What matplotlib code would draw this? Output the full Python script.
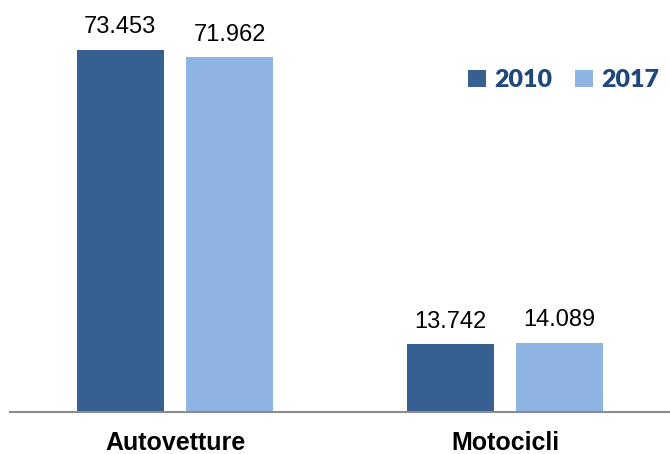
import matplotlib.pyplot as plt
import numpy as np

categories = ['Autovetture', 'Motocicli']
years = ['2010', '2017']
values_2010 = [73.453, 13.742]
values_2017 = [71.962, 14.089]

colors = ['#376092', '#8EB4E3']

fig = plt.figure(figsize=(6.7, 4.54), dpi=100)
ax = fig.add_axes([10 / 670, 42 / 454, 660 / 670, 412 / 454])

x = np.arange(len(categories))
width = 0.263
offset = 0.166

for i, (vals, col) in enumerate(zip([values_2010, values_2017], colors)):
    b = ax.bar(x + (i * 2 - 1) * offset, vals, width, color=col, label=years[i])
    for rect, v in zip(b, vals):
        ax.annotate(f'{v:.3f}', (rect.get_x() + rect.get_width() / 2, v),
                    xytext=(0, 12), textcoords='offset points',
                    ha='center', va='baseline', fontsize=17,
                    family='Liberation Sans', color='black')

ax.set_xlim(-0.5, 1.5)
ax.set_ylim(0, 83.6)
ax.set_xticks(x)
ax.set_xticklabels(categories, fontsize=18, fontweight='bold', family='Liberation Sans')
ax.tick_params(axis='x', length=0, pad=14)
ax.set_yticks([])

for s in ['top', 'right', 'left']:
    ax.spines[s].set_visible(False)
ax.spines['bottom'].set_color('#8C8C8C')
ax.spines['bottom'].set_linewidth(1.5)

ax.legend(loc='center right', bbox_to_anchor=(1.003, 0.805), ncol=2,
          frameon=False, handlelength=0.7, handleheight=0.7,
          handletextpad=0.35, columnspacing=0.9, borderpad=0,
          prop={'family': 'Lato', 'weight': 'heavy', 'size': 18},
          labelcolor='#1F497D')

fig.savefig('out.png', dpi=100)
